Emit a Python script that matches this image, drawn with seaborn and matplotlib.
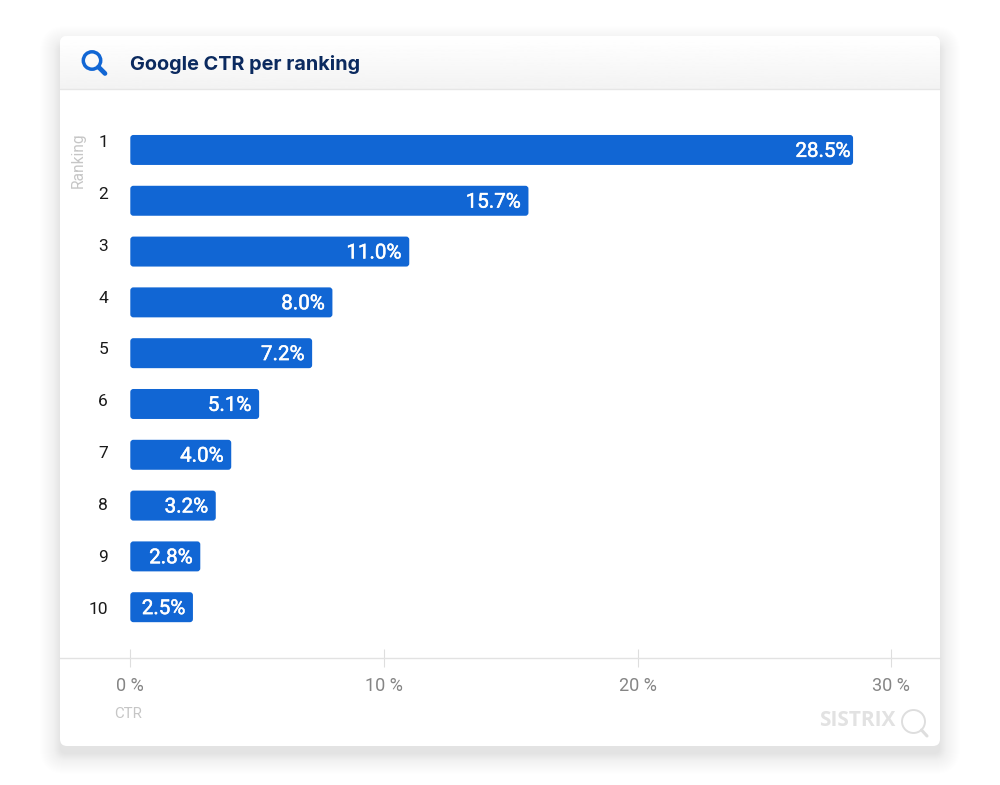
import numpy as np
import seaborn as sns
import matplotlib.pyplot as plt
import matplotlib.patheffects as pe
from matplotlib.patches import FancyBboxPatch, Circle

# data
rankings = ['1', '2', '3', '4', '5', '6', '7', '8', '9', '10']
bar_lengths = [28.5, 15.7, 11.0, 7.97, 7.17, 5.08, 3.98, 3.37, 2.76, 2.47]
ctr_labels = ['28.5%', '15.7%', '11.0%', '8.0%', '7.2%', '5.1%', '4.0%', '3.2%', '2.8%', '2.5%']
x_ticks = [0, 10, 20, 30]

BLUE = '#1166d4'
W, H = 1000, 785
PX_PER_UNIT = 25.36

sns.set_theme(style='white')
plt.rcParams['font.family'] = ['Roboto', 'DejaVu Sans']

fig = plt.figure(figsize=(W / 100, H / 100), dpi=100, facecolor='white')

# card background, drawn in pixel coordinates
bg = fig.add_axes([0, 0, 1, 1], zorder=0)
bg.set_xlim(0, W)
bg.set_ylim(H, 0)
bg.axis('off')

# soft shadow, stronger close to the card
for grow in range(32, -1, -1):
    bg.add_patch(FancyBboxPatch((60 - grow, 46 - grow), 880 + 2 * grow, 708 + 2 * grow,
                                boxstyle='round,pad=0,rounding_size=%d' % (6 + grow),
                                fc='black', ec='none', alpha=0.008 * (1 - grow / 33) ** 1.5))

card = FancyBboxPatch((60, 36), 880, 710, boxstyle='round,pad=0,rounding_size=7', fc='white', ec='none')
bg.add_patch(card)

# header gradient
grad = np.linspace(1.0, 0.953, 64).reshape(-1, 1)
im = bg.imshow(grad, extent=(60, 940, 89, 36), cmap='gray', vmin=0, vmax=1, aspect='auto', zorder=2)
im.set_clip_path(card)
bg.set_xlim(0, W)
bg.set_ylim(H, 0)
bg.plot([60, 940], [89, 89], color='#e6e6e6', lw=1, zorder=3)

# search icon
bg.add_patch(Circle((92, 60.5), 8.7, fc='none', ec=BLUE, lw=2.5, zorder=4))
bg.plot([98.5, 105], [67, 73.5], color=BLUE, lw=3.4, solid_capstyle='round', zorder=4)
bg.text(130, 64, 'Google CTR per ranking', family=['Inter', 'DejaVu Sans'], fontsize=14.3,
        fontweight='bold', color='#0b2a5f', va='center', ha='left', zorder=4)

# watermark
bg.text(857.5, 721, 'SISTRIX', family=['Open Sans', 'DejaVu Sans'], fontsize=15, fontweight='bold',
        color='#e2e2e2', va='center', ha='center', zorder=4)
bg.add_patch(Circle((913.5, 721.5), 11.5, fc='none', ec='#dedede', lw=1.4, zorder=4))
bg.plot([921.5, 927], [730, 736], color='#dedede', lw=2.2, solid_capstyle='round', zorder=4)

# chart axes span the full card width, the bottom spine is the rule under the bars
ax = fig.add_axes([60 / W, 1 - 658 / H, 880 / W, 569 / H], zorder=1)
ax.patch.set_alpha(0)

sns.barplot(x=bar_lengths, y=rankings, color=BLUE, saturation=1, width=0.59, orient='h', ax=ax)

ax.set_xlim(-70.3 / PX_PER_UNIT, 809.7 / PX_PER_UNIT)
ax.set_ylim(10, -1.2)

labels = ax.bar_label(ax.containers[0], labels=ctr_labels, padding=-5,
                      color='white', fontsize=14.8, fontweight='normal')
for i, t in enumerate(labels):
    t.set_ha('right')
    t.set_zorder(5)
    t.set_path_effects([pe.withStroke(linewidth=0.35, foreground='white')])
    # longest bar keeps its label tight to the end
    t.xyann = (-2 if i == 0 else -5.6, -1)

# swap the square bars for rounded ones
aspect = (1 / 50.8) / (1 / PX_PER_UNIT)
for bar in ax.containers[0]:
    ax.add_patch(FancyBboxPatch((bar.get_x(), bar.get_y()), bar.get_width(), bar.get_height(),
                                boxstyle='round,pad=0,rounding_size=0.12', mutation_aspect=aspect,
                                fc=BLUE, ec='none', zorder=2))
    bar.set_visible(False)

sns.despine(ax=ax, left=True, top=True, right=True)
ax.spines['bottom'].set_color('#e2e2e2')
ax.spines['bottom'].set_linewidth(1)

ax.set_xticks(x_ticks, ['%d %%' % v for v in x_ticks])
ax.tick_params(axis='x', direction='inout', length=13, width=0.8, color='#dedede',
               labelcolor='#858585', labelsize=13, pad=7.5, bottom=True)

# the ranking labels drift up from the bar centres towards the top
drift = np.linspace(-0.177, 0.01, len(rankings))
ax.set_yticks(np.arange(len(rankings)) + drift, rankings)
ax.tick_params(axis='y', length=0, labelcolor='#1a1a1a', labelsize=12.5, pad=0)
for t in ax.get_yticklabels():
    t.set_x((108 - 60) / 880)
    t.set_transform(ax.get_yaxis_transform())
ax.set_xlabel('')
ax.set_ylabel('')

bg.text(78, 160, 'Ranking', rotation=90, fontsize=11.2, color='#c6c6c6', va='center', ha='center', zorder=4)
bg.text(128, 713.5, 'CTR', fontsize=10.8, color='#c6c6c6', va='center', ha='center', zorder=4)

fig.savefig('out.png', dpi=100)
